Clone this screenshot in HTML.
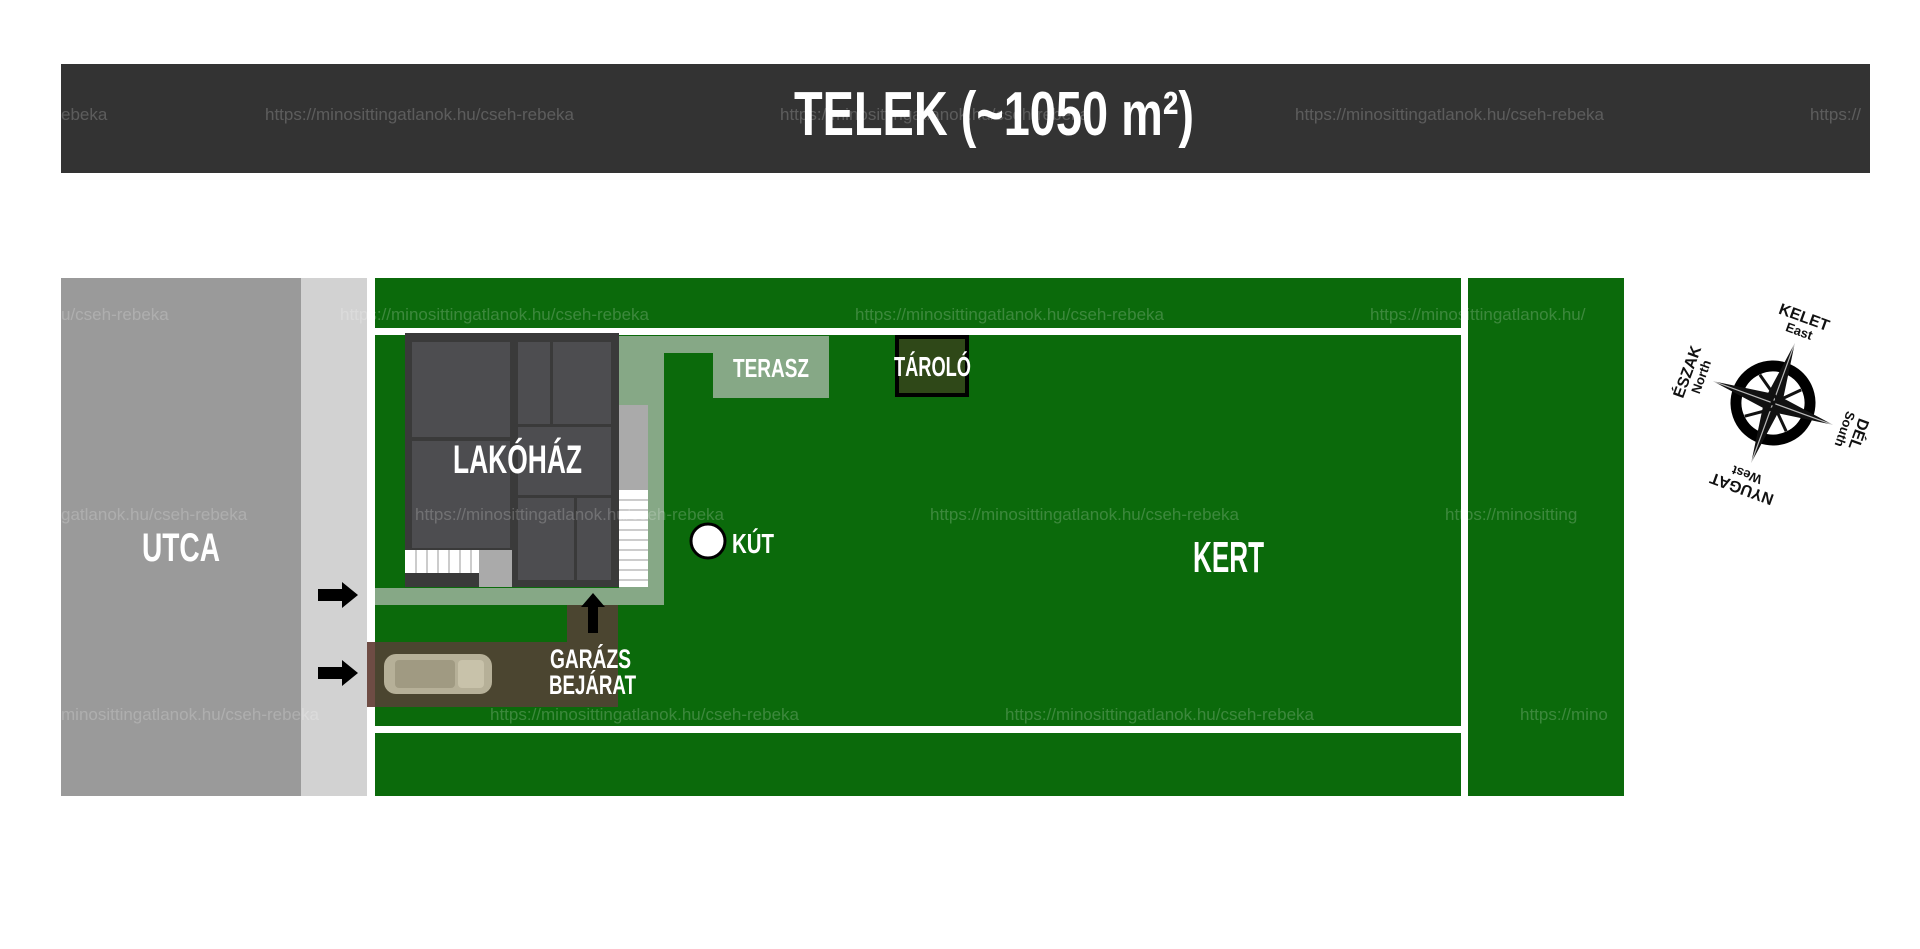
<!DOCTYPE html>
<html><head><meta charset="utf-8"><style>
html,body{margin:0;padding:0;background:#fff;width:1920px;height:949px;overflow:hidden}
svg{display:block}
.l{font-family:"Liberation Sans Narrow","Liberation Sans",sans-serif;font-weight:bold;fill:#fff}
.w{font-family:"Liberation Sans",sans-serif;font-size:17px;fill:#fff;opacity:.2}
.c{font-family:"Liberation Sans","DejaVu Sans",sans-serif;font-weight:bold;fill:#111}
</style></head><body>
<svg width="1920" height="949" viewBox="0 0 1920 949" xmlns="http://www.w3.org/2000/svg">
<rect width="1920" height="949" fill="#fff"/>
<rect x="61" y="64" width="1809" height="109" fill="#333"/>
<rect x="61" y="278" width="240" height="518" fill="#9a9a9a"/>
<rect x="301" y="278" width="66" height="518" fill="#d2d2d2"/>
<rect x="375" y="278" width="1086" height="518" fill="#0b6a0b"/>
<rect x="375" y="328" width="1086" height="7" fill="#fff"/>
<rect x="375" y="726" width="1086" height="7" fill="#fff"/>
<rect x="1461" y="278" width="7" height="518" fill="#fff"/>
<rect x="1468" y="278" width="156" height="518" fill="#0b6a0b"/>
<g fill="#86a886">
<rect x="619" y="336" width="210" height="17"/>
<rect x="713" y="353" width="116" height="45"/>
<rect x="619" y="336" width="45" height="269"/>
<rect x="375" y="588" width="289" height="17"/>
</g>
<rect x="567" y="605" width="51" height="37" fill="#4b4530"/>
<rect x="367" y="642" width="251" height="65" fill="#4b4530"/>
<rect x="367" y="642" width="8" height="65" fill="#6e4c44"/>
<g>
<rect x="384" y="654" width="108" height="40" rx="12" fill="#b6b098"/>
<rect x="395" y="660" width="60" height="28" rx="4" fill="#a09a82"/>
<rect x="458" y="660" width="26" height="28" rx="4" fill="#c8c2aa"/>
</g>
<rect x="405" y="333" width="214" height="254" fill="#3a3a3a"/>
<g fill="#4d4d50">
<rect x="412" y="342" width="98" height="95"/>
<rect x="412" y="441" width="98" height="107"/>
<rect x="518" y="342" width="32" height="82"/>
<rect x="553" y="342" width="58" height="82"/>
<rect x="518" y="427" width="93" height="68"/>
<rect x="518" y="498" width="56" height="82"/>
<rect x="577" y="498" width="34" height="82"/>
</g>
<rect x="405" y="550" width="74" height="23" fill="#fff"/>
<g stroke="#999" stroke-width="1">
<line x1="416" y1="550" x2="416" y2="573"/><line x1="427" y1="550" x2="427" y2="573"/><line x1="438" y1="550" x2="438" y2="573"/><line x1="449" y1="550" x2="449" y2="573"/><line x1="460" y1="550" x2="460" y2="573"/><line x1="471" y1="550" x2="471" y2="573"/>
</g>
<rect x="479" y="550" width="33" height="37" fill="#aaa"/>
<rect x="619" y="405" width="29" height="85" fill="#aaa"/>
<rect x="619" y="490" width="29" height="97" fill="#fff"/>
<g stroke="#999" stroke-width="1">
<line x1="619" y1="500" x2="648" y2="500"/><line x1="619" y1="510" x2="648" y2="510"/><line x1="619" y1="520" x2="648" y2="520"/><line x1="619" y1="530" x2="648" y2="530"/><line x1="619" y1="540" x2="648" y2="540"/><line x1="619" y1="550" x2="648" y2="550"/><line x1="619" y1="560" x2="648" y2="560"/><line x1="619" y1="570" x2="648" y2="570"/><line x1="619" y1="580" x2="648" y2="580"/>
</g>
<rect x="897" y="337" width="70" height="58" fill="#2f4818" stroke="#000" stroke-width="4"/>
<g fill="#000">
<path d="M318 589h24v-7l16 13-16 13v-7h-24z"/>
<path d="M318 667h24v-7l16 13-16 13v-7h-24z"/>
<path d="M588 633v-26h-7l12-14 12 14h-7v26z"/>
</g>
<circle cx="708" cy="541" r="17" fill="#fff" stroke="#000" stroke-width="3"/>
<g class="w">
<text x="61" y="120">ebeka</text><text x="265" y="120">https://minosittingatlanok.hu/cseh-rebeka</text><text x="780" y="120">https://minosittingatlanok.hu/cseh-rebeka</text><text x="1295" y="120">https://minosittingatlanok.hu/cseh-rebeka</text><text x="1810" y="120">https://</text>
<text x="61" y="320">u/cseh-rebeka</text><text x="340" y="320">https://minosittingatlanok.hu/cseh-rebeka</text><text x="855" y="320">https://minosittingatlanok.hu/cseh-rebeka</text><text x="1370" y="320">https://minosittingatlanok.hu/</text>
<text x="61" y="520">gatlanok.hu/cseh-rebeka</text><text x="415" y="520">https://minosittingatlanok.hu/cseh-rebeka</text><text x="930" y="520">https://minosittingatlanok.hu/cseh-rebeka</text><text x="1445" y="520">https://minositting</text>
<text x="61" y="720">minosittingatlanok.hu/cseh-rebeka</text><text x="490" y="720">https://minosittingatlanok.hu/cseh-rebeka</text><text x="1005" y="720">https://minosittingatlanok.hu/cseh-rebeka</text><text x="1520" y="720">https://mino</text>
</g>
<text class="l" x="794" y="135" font-size="62" textLength="400" lengthAdjust="spacingAndGlyphs">TELEK (~1050 m²)</text>
<text class="l" x="453" y="473" font-size="40" textLength="129" lengthAdjust="spacingAndGlyphs">LAKÓHÁZ</text>
<text class="l" x="142" y="561" font-size="40" textLength="78" lengthAdjust="spacingAndGlyphs">UTCA</text>
<text class="l" x="733" y="377" font-size="26" textLength="76" lengthAdjust="spacingAndGlyphs">TERASZ</text>
<text class="l" x="894" y="376" font-size="28" textLength="77" lengthAdjust="spacingAndGlyphs">TÁROLÓ</text>
<text class="l" x="732" y="553" font-size="28" textLength="42" lengthAdjust="spacingAndGlyphs">KÚT</text>
<text class="l" x="1193" y="572" font-size="44" textLength="71" lengthAdjust="spacingAndGlyphs">KERT</text>
<text class="l" x="550" y="668" font-size="27" textLength="81" lengthAdjust="spacingAndGlyphs">GARÁZS</text>
<text class="l" x="549" y="694" font-size="27" textLength="87" lengthAdjust="spacingAndGlyphs">BEJÁRAT</text>
<g transform="translate(1773,403) rotate(20)">
<circle r="37" fill="none" stroke="#000" stroke-width="11"/>
<path d="M0,-64 L8,-8 L64,0 L8,8 L0,64 L-8,8 L-64,0 L-8,-8 Z" fill="#111"/>
<path d="M0,-64 L0,0 L64,0 L0,0 L0,64 L0,0 L-64,0 Z" fill="none" stroke="#fff" stroke-width="1.2" opacity=".7"/>
<path d="M-22,-22 L4,-4 M22,-22 L-4,4 M22,22 L-4,-4 M-22,22 L4,4" stroke="#111" stroke-width="3"/>
<text class="c" x="0" y="-86" font-size="16" text-anchor="middle">KELET</text>
<text class="c" x="0" y="-72" font-size="13" text-anchor="middle">East</text>
<g transform="rotate(-90)"><text class="c" x="0" y="-86" font-size="16" text-anchor="middle">ÉSZAK</text><text class="c" x="0" y="-72" font-size="13" text-anchor="middle">North</text></g>
<g transform="rotate(180)"><text class="c" x="0" y="-86" font-size="16" text-anchor="middle">NYUGAT</text><text class="c" x="0" y="-72" font-size="13" text-anchor="middle">West</text></g>
<g transform="rotate(90)"><text class="c" x="0" y="-86" font-size="16" text-anchor="middle">DÉL</text><text class="c" x="0" y="-72" font-size="13" text-anchor="middle">South</text></g>
</g>
</svg>
</body></html>
